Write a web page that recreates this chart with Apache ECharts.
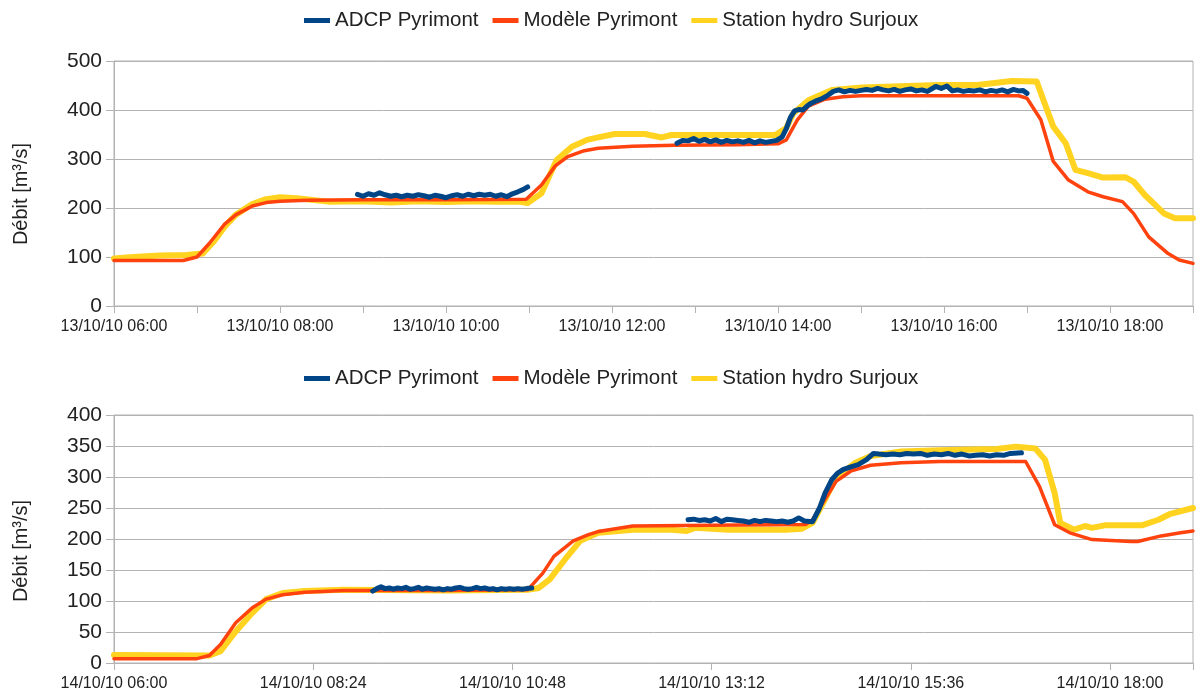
<!DOCTYPE html>
<html>
<head>
<meta charset="utf-8">
<script src="https://cdn.jsdelivr.net/npm/echarts@6/dist/echarts.min.js"></script>
<style>
html, body { margin: 0; padding: 0; background: #fff; }
#chart { width: 1196px; height: 697px; }
</style>
</head>
<body>
<div id="chart"></div>
<script>
// series names (legend order)
var names = ['ADCP Pyrimont', 'Modèle Pyrimont', 'Station hydro Surjoux'];
var colors = ['#004586', '#ff420e', '#ffd320'];

// 13/10/10 -- [time, débit m3/s]
var adcp13 = [
  ['08:56',228],['09:00',224],['09:04',229],['09:08',226],['09:12',231],['09:16',227],['09:20',224],['09:24',226],
  ['09:28',223],['09:32',226],['09:36',224],['09:40',227],['09:44',225],['09:48',222],['09:52',226],['09:56',224],
  ['10:00',221],['10:04',225],['10:08',227],['10:12',224],['10:16',228],['10:20',225],['10:24',228],['10:28',226],
  ['10:32',228],['10:36',224],['10:40',227],['10:44',223],['10:48',229],['10:52',233],['10:56',238],['10:59',243],
  ['11:30',null],
  ['12:47',332],['12:51',338],['12:55',337],['12:59',342],['13:03',336],['13:07',340],['13:11',335],['13:15',339],
  ['13:19',334],['13:23',338],['13:27',335],['13:31',337],['13:35',334],['13:39',338],['13:43',333],['13:47',337],
  ['13:51',334],['13:55',336],['13:59',338],['14:03',345],['14:06',362],['14:09',385],['14:12',398],['14:15',401],
  ['14:18',400],['14:21',408],['14:24',414],['14:27',418],['14:30',421],['14:33',425],['14:36',430],['14:40',438],
  ['14:44',441],['14:48',437],['14:52',440],['14:56',438],['15:00',440],['15:04',442],['15:08',440],['15:12',444],
  ['15:16',441],['15:20',439],['15:24',442],['15:28',438],['15:32',441],['15:36',443],['15:40',439],['15:44',441],
  ['15:48',438],['15:54',448],['15:58',444],['16:02',449],['16:06',439],['16:10',441],['16:14',438],['16:18',440],
  ['16:22',439],['16:26',441],['16:30',437],['16:34',440],['16:38',438],['16:42',441],['16:46',437],['16:50',442],
  ['16:54',439],['16:57',440],['17:00',434]
];
var model13 = [
  ['06:00',93],['06:50',93],['07:00',100],['07:09',128],['07:20',167],['07:28',186],['07:40',204],['07:50',211],
  ['08:00',214],['08:20',216],['09:00',217],['10:00',217],['10:58',218],['11:09',247],['11:19',286],['11:28',305],
  ['11:40',317],['11:50',322],['12:15',326],['12:45',328],['13:30',329],['14:00',331],['14:06',339],['14:14',380],
  ['14:22',408],['14:34',422],['14:47',427],['15:00',429],['16:00',429],['16:54',429],['17:00',424],['17:10',380],
  ['17:19',295],['17:30',257],['17:44',233],['17:55',223],['18:09',213],['18:17',189],['18:28',141],['18:42',107],
  ['18:50',94],['19:00',87]
];
var station13 = [
  ['06:00',97],['06:14',100],['06:33',103],['06:52',104],['07:04',107],['07:12',131],['07:20',162],['07:28',186],
  ['07:40',208],['07:50',218],['08:00',222],['08:12',220],['08:35',213],['09:00',214],['09:20',211],['09:40',214],
  ['10:00',212],['10:20',214],['10:36',213],['10:53',213],['10:59',210],['11:09',230],['11:20',298],['11:31',325],
  ['11:42',339],['11:50',344],['12:02',351],['12:24',351],['12:27',349],['12:36',344],['12:43',349],['13:10',349],
  ['13:58',349],['14:06',363],['14:11',393],['14:22',420],['14:39',441],['15:01',446],['15:56',451],['16:24',451],
  ['16:49',459],['17:07',458],['17:11',427],['17:19',366],['17:28',332],['17:35',278],['17:44',271],['17:55',262],
  ['18:11',263],['18:17',254],['18:25',227],['18:39',189],['18:47',179],['19:00',179]
];

// 14/10/10
var adcp14 = [
  ['09:07',116],['09:10',120],['09:13',123],['09:16',120],['09:19',121],['09:22',119],['09:25',121],['09:28',120],
  ['09:31',122],['09:34',119],['09:37',120],['09:40',122],['09:43',119],['09:46',121],['09:49',120],['09:52',119],
  ['09:55',120],['09:58',118],['10:01',120],['10:04',119],['10:07',121],['10:10',122],['10:13',120],['10:16',119],
  ['10:19',120],['10:22',122],['10:25',120],['10:28',121],['10:31',119],['10:34',120],['10:37',118],['10:40',120],
  ['10:43',119],['10:46',120],['10:49',119],['10:52',120],['10:55',119],['10:58',120],['11:02',121],
  ['12:00',null],
  ['12:55',231],['12:59',232],['13:03',230],['13:07',231],['13:11',229],['13:15',233],['13:19',228],['13:23',232],
  ['13:27',231],['13:31',230],['13:35',229],['13:39',227],['13:43',230],['13:47',228],['13:51',230],['13:55',229],
  ['13:59',228],['14:03',229],['14:07',227],['14:11',229],['14:15',234],['14:19',229],['14:25',228],['14:30',250],
  ['14:34',274],['14:39',296],['14:43',306],['14:47',312],['14:52',316],['14:58',320],['15:04',328],['15:09',338],
  ['15:13',337],['15:18',336],['15:23',337],['15:28',336],['15:33',338],['15:38',337],['15:43',338],['15:48',335],
  ['15:53',337],['15:58',336],['16:03',338],['16:08',335],['16:13',337],['16:18',334],['16:23',335],['16:28',336],
  ['16:33',334],['16:38',336],['16:43',335],['16:48',338],['16:56',339]
];
var model14 = [
  ['06:00',7],['07:00',7],['07:09',12],['07:17',30],['07:28',65],['07:40',89],['07:50',103],['08:02',110],
  ['08:18',114],['08:46',117],['10:00',117],['10:59',118],['11:10',145],['11:18',172],['11:32',197],['11:43',207],
  ['11:50',212],['12:15',221],['13:11',222],['14:20',223.5],['14:25',231],['14:34',264],['14:42',293],['14:53',310],
  ['15:07',319],['15:29',323],['15:57',325],['16:59',325],['17:09',285],['17:20',223],['17:31',210],['17:47',199],
  ['18:15',196],['18:20',196],['18:37',205],['18:51',210],['19:00',213]
];
var station14 = [
  ['06:00',13],['07:09',12],['07:17',19],['07:28',51],['07:40',81],['07:50',103],['08:02',113],['08:18',116],
  ['08:46',118],['10:00',117],['10:59',118],['11:07',121],['11:15',135],['11:26',167],['11:37',197],['11:50',210],
  ['12:15',215],['12:43',215],['12:54',213],['13:00',218],['13:24',215],['14:06',215],['14:17',216.5],['14:25',226],
  ['14:34',264],['14:42',299],['14:56',323],['15:07',334],['15:29',341],['15:57',343],['16:38',345],['16:52',349],
  ['17:06',346],['17:13',328],['17:20',274],['17:24',226],['17:34',215],['17:42',221],['17:47',218],['17:56',222],
  ['18:23',222],['18:35',231],['18:43',240],['19:00',250]
];

var FONT = 'Liberation Sans';
var START = 360; // 06:00 in minutes

// "HH:MM" -> minutes since 06:00
function pts(arr) {
    return arr.map(function (p) {
        var hm = p[0].split(':');
        return [(+hm[0]) * 60 + (+hm[1]) - START, p[1]];
    });
}

function timeLabel(day, step) {
    return function (v) {
        var m = Math.round(v);
        if (m % step !== 0) return '';
        var t = m + START;
        var hh = Math.floor(t / 60), mm = t % 60;
        return day + ' ' + (hh < 10 ? '0' : '') + hh + ':' + (mm < 10 ? '0' : '') + mm;
    };
}

var grey = '#b3b3b3';

function xAx(idx, day, step) {
    return {
        type: 'value', gridIndex: idx, min: 0, max: 780, interval: step === 120 ? 60 : 144,
        axisLine: { lineStyle: { color: grey } },
        axisTick: { length: 7, lineStyle: { color: grey } },
        splitLine: { show: false },
        axisLabel: { formatter: timeLabel(day, step), fontFamily: FONT, fontSize: 16, color: '#222', margin: 13 }
    };
}
function yAx(idx, max, step) {
    return {
        type: 'value', gridIndex: idx, min: 0, max: max, interval: step,
        axisLine: { show: true, lineStyle: { color: grey } },
        axisTick: { show: true, length: 8, lineStyle: { color: grey } },
        splitLine: { lineStyle: { color: grey } },
        axisLabel: { fontFamily: FONT, fontSize: 21, color: '#222', margin: 12 }
    };
}
function line(idx, k, data, w) {
    return {
        name: names[k], type: 'line', xAxisIndex: idx, yAxisIndex: idx,
        data: pts(data), showSymbol: false, symbol: 'none', color: colors[k],
        lineStyle: { width: w, color: colors[k], cap: 'round', join: 'round' }
    };
}
function legend(top) {
    return {
        data: names, left: 299, top: top, icon: 'rect', itemWidth: 26, itemHeight: 5, itemGap: 14,
        textStyle: { fontFamily: FONT, fontSize: 20.5, color: '#222' }
    };
}
function yTitle(y) {
    return {
        type: 'text', x: 21, y: y, rotation: Math.PI / 2,
        style: { text: 'Débit [m³/s]', font: '20px "Liberation Sans"', fill: '#222',
                 textAlign: 'center', textVerticalAlign: 'middle' }
    };
}

var chart = echarts.init(document.getElementById('chart'));
chart.setOption({
    animation: false,
    backgroundColor: '#fff',
    legend: [legend(5), legend(363)],
    grid: [
        { left: 114, right: 1, top: 61, height: 245, show: true, borderColor: grey, borderWidth: 1 },
        { left: 114, right: 1, top: 415, height: 248, show: true, borderColor: grey, borderWidth: 1 }
    ],
    xAxis: [xAx(0, '13/10/10', 120), xAx(1, '14/10/10', 144)],
    yAxis: [yAx(0, 500, 100), yAx(1, 400, 50)],
    graphic: [yTitle(194), yTitle(551)],
    series: [
        line(0, 2, station13, 6), line(0, 1, model13, 3.5), line(0, 0, adcp13, 5),
        line(1, 2, station14, 6), line(1, 1, model14, 3.5), line(1, 0, adcp14, 5)
    ]
});
</script>
</body>
</html>
